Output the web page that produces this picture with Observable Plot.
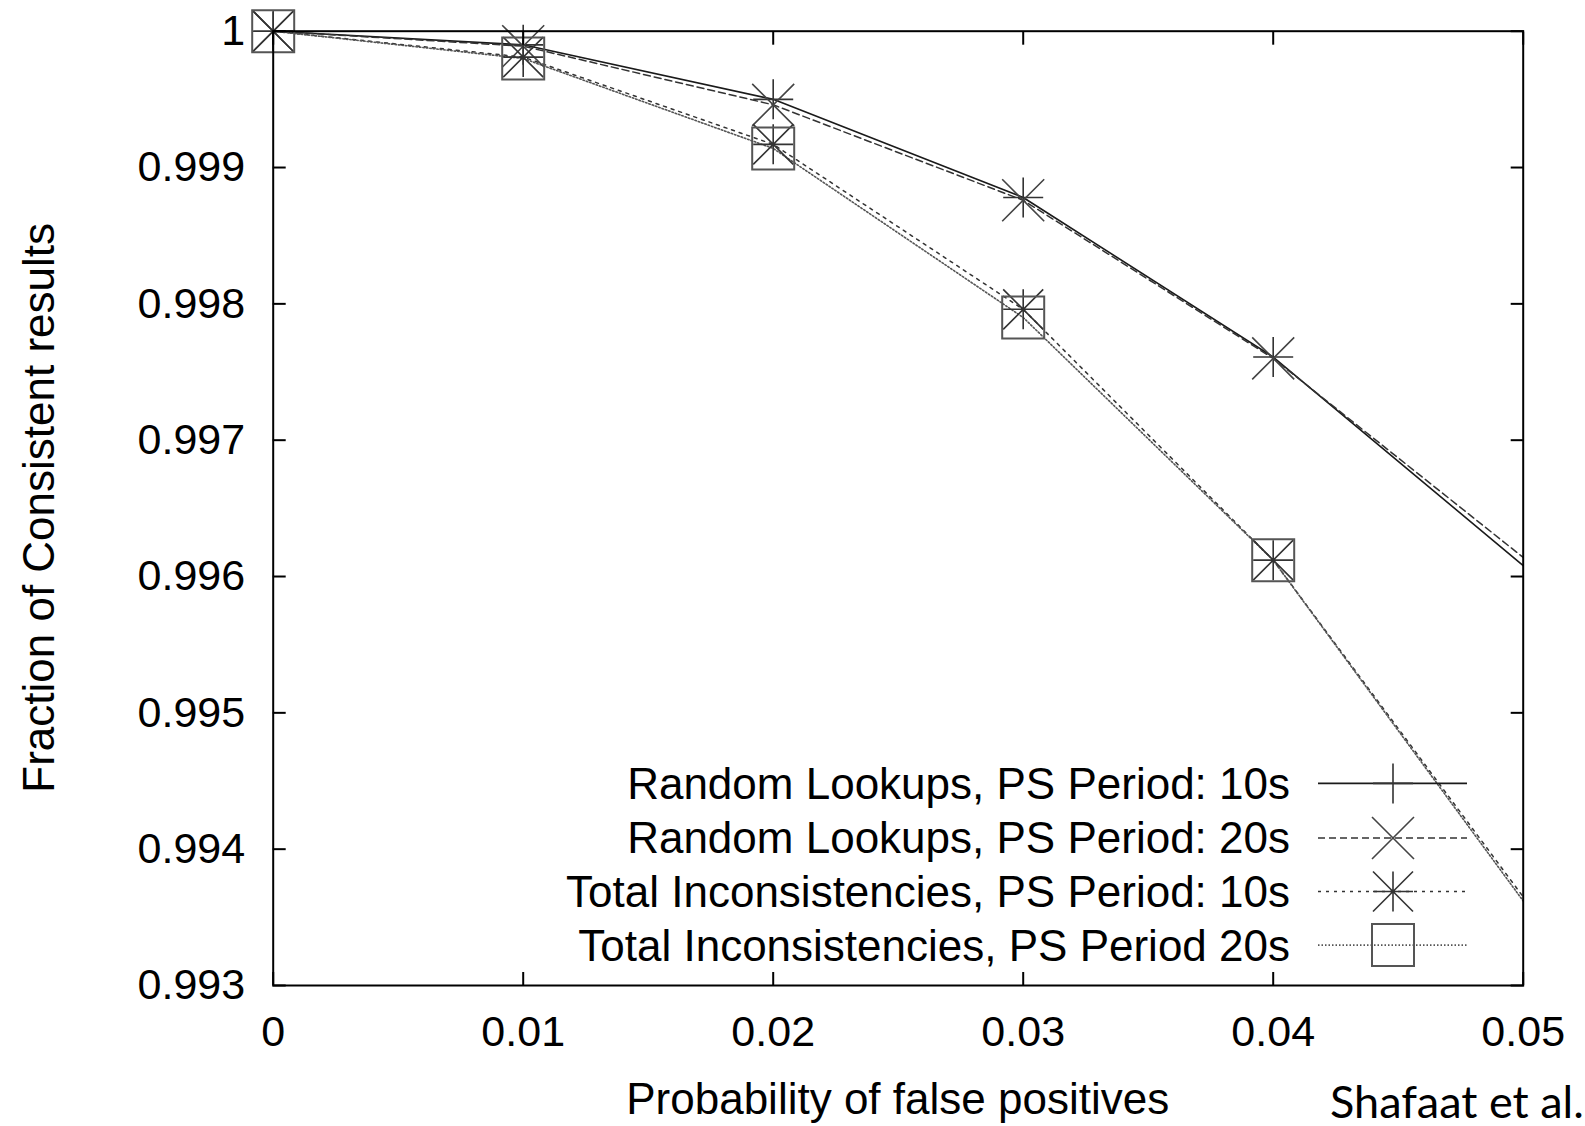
<!DOCTYPE html>
<html><head><meta charset="utf-8">
<script src="https://cdn.jsdelivr.net/npm/d3@7"></script>
<script src="https://cdn.jsdelivr.net/npm/@observablehq/plot@0.6"></script>
<style>
body{margin:0;background:#fff;}
#chart{position:relative;width:1585px;height:1126px;}
</style></head><body><div id="chart"></div>
<script>
// ---- data ----
const xValues = [0, 0.01, 0.02, 0.03, 0.04, 0.05];
const random10 = [1, 0.99990, 0.99950, 0.99878, 0.99761, 0.99608];
const random20 = [1, 0.99989, 0.99946, 0.99876, 0.99760, 0.99614];
const total10  = [1, 0.99981, 0.99917, 0.99796, 0.99612, 0.99365];
const total20  = [1, 0.99980, 0.99914, 0.99790, 0.99612, 0.99362];
const seriesNames = [
  "Random Lookups, PS Period: 10s",
  "Random Lookups, PS Period: 20s",
  "Total Inconsistencies, PS Period: 10s",
  "Total Inconsistencies, PS Period 20s"
];
const xTicks = [0, 0.01, 0.02, 0.03, 0.04, 0.05];
const xTickLabels = ["0", "0.01", "0.02", "0.03", "0.04", "0.05"];
const yTicks = [0.993, 0.994, 0.995, 0.996, 0.997, 0.998, 0.999, 1];
const yTickLabels = ["0.993", "0.994", "0.995", "0.996", "0.997", "0.998", "0.999", "1"];
const xTitle = "Probability of false positives";
const yTitle = "Fraction of Consistent results";
const credit = "Shafaat et al.";
const xMax = 0.05; // right border: points there are clipped (lines continue past it)

// ---- symbols ----
const rad = size => Math.sqrt(size / Math.PI);
const symPlus = {draw(c, s){const r = rad(s); c.moveTo(-r,0); c.lineTo(r,0); c.moveTo(0,-r); c.lineTo(0,r);}};
const symTimes = {draw(c, s){const r = rad(s); c.moveTo(-r,-r); c.lineTo(r,r); c.moveTo(-r,r); c.lineTo(r,-r);}};
const symAster = {draw(c, s){const r = rad(s); c.moveTo(-r,0); c.lineTo(r,0); c.moveTo(0,-r); c.lineTo(0,r);
  c.moveTo(-r,-r); c.lineTo(r,r); c.moveTo(-r,r); c.lineTo(r,-r);}};
const symSquare = {draw(c, s){const r = rad(s); c.moveTo(-r,-r); c.lineTo(r,-r); c.lineTo(r,r); c.lineTo(-r,r); c.closePath();}};

const seriesValues = [random10, random20, total10, total20];
const styles = [
  {stroke:"#1a1a1a", dash:null, width:1.6, sym:symPlus, r:20, mstroke:"#333", mwidth:1.6},
  {stroke:"#333", dash:"7,4", width:1.5, sym:symTimes, r:21, mstroke:"#444", mwidth:1.6},
  {stroke:"#333", dash:"3,5", width:1.5, sym:symAster, r:20, mstroke:"#333", mwidth:1.6},
  {stroke:"#555", dash:"1.5,2", width:1.6, sym:symSquare, r:21, mstroke:"#555", mwidth:2}
];
const tables = seriesValues.map((vals, k) => xValues.map((x, i) => ({x, y: vals[i], series: seriesNames[k]})));

const lineMarks = tables.map((t, k) => Plot.line(t, {x:"x", y:"y", stroke: styles[k].stroke, strokeWidth: styles[k].width,
  strokeDasharray: styles[k].dash || undefined}));
const dotMarks = tables.map((t, k) => Plot.dot(t, {x:"x", y:"y", filter: d => d.x < xMax, symbol: styles[k].sym, r: styles[k].r,
  fill:"none", stroke: styles[k].mstroke, strokeWidth: styles[k].mwidth}));

const W = 1585, H = 1126, ML = 272.7, MR = 62.3, MT = 30.7, MB = 141;
const fmtY = d => yTickLabels[yTicks.indexOf(d)];
const fmtX = d => xTickLabels[xTicks.indexOf(d)];

const plot = Plot.plot({
  width: W, height: H,
  marginLeft: ML, marginRight: MR, marginTop: MT, marginBottom: MB,
  x: {domain: [0, xMax]},
  y: {domain: [0.993, 1]},
  style: {fontFamily: "'Liberation Sans', Arial, Helvetica, sans-serif", fontSize: "43px", color: "#000", background: "#fff", overflow: "visible"},
  marks: [
    ...lineMarks,
    ...dotMarks,
    Plot.axisY(yTicks, {anchor: "left", tickSize: -13, tickPadding: 41, strokeWidth: 2, tickFormat: fmtY, label: null}),
    Plot.axisY(yTicks, {anchor: "right", tickSize: -13, strokeWidth: 2, tickFormat: () => "", label: null}),
    Plot.axisX(xTicks, {anchor: "bottom", tickSize: -13, tickPadding: 43, strokeWidth: 2, tickFormat: fmtX, label: null}),
    Plot.axisX(xTicks, {anchor: "top", tickSize: -13, strokeWidth: 2, tickFormat: () => "", label: null}),
    Plot.frame({stroke: "#000", strokeWidth: 2})
  ]
});
document.getElementById("chart").appendChild(plot);

// ---- titles & legend (layout) ----
const svg = d3.select(plot);
const font = "'Liberation Sans', Arial, Helvetica, sans-serif";
svg.append("text").attr("x", (ML + W - MR) / 2).attr("y", 1114).attr("text-anchor", "middle")
  .attr("font-family", font).attr("font-size", 44).attr("fill", "#000").text(xTitle);
svg.append("text").attr("transform", `translate(54,${(MT + H - MB) / 2}) rotate(-90)`).attr("text-anchor", "middle")
  .attr("font-family", font).attr("font-size", 44).attr("fill", "#000").text(yTitle);
svg.append("text").attr("x", 1330).attr("y", 1118).attr("text-anchor", "start")
  .attr("font-family", "Lato, 'Open Sans', sans-serif").attr("font-size", 45).attr("fill", "#000").text(credit);

const legendRows = [783.4, 838, 891.5, 945.1];
const lg = svg.append("g");
seriesNames.forEach((name, k) => {
  const yy = legendRows[k];
  lg.append("text").attr("x", 1290).attr("y", yy).attr("dy", "0.35em").attr("text-anchor", "end")
    .attr("font-family", font).attr("font-size", 44).attr("fill", "#000").text(name);
  lg.append("line").attr("x1", 1318).attr("x2", 1467).attr("y1", yy).attr("y2", yy)
    .attr("stroke", styles[k].stroke).attr("stroke-width", styles[k].width)
    .attr("stroke-dasharray", styles[k].dash || null);
  const p = d3.path();
  styles[k].sym.draw(p, Math.PI * styles[k].r * styles[k].r);
  lg.append("path").attr("transform", `translate(1393,${yy})`).attr("d", p.toString())
    .attr("fill", "none").attr("stroke", styles[k].mstroke).attr("stroke-width", styles[k].mwidth);
});
</script></body></html>
